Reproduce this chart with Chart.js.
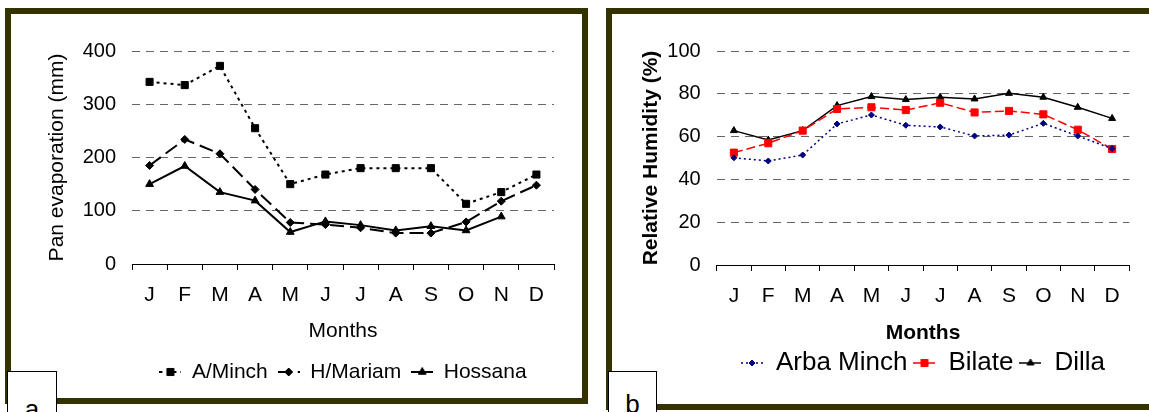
<!DOCTYPE html>
<html>
<head>
<meta charset="utf-8">
<title>Pan evaporation and relative humidity</title>
<script src="https://cdn.jsdelivr.net/npm/chart.js"></script>
<style>
	html, body { margin: 0; padding: 0; background: #fff; }
	body { position: relative; width: 1149px; height: 412px; overflow: hidden; font-family: 'Liberation Sans', Arial, sans-serif; }
	.frame { position: absolute; box-sizing: border-box; border: 6px solid #333300; background: #fff; }
	.frame-a { left: 5px; top: 8px; width: 583px; height: 396px; }
	.frame-b { left: 606px; top: 8px; width: 560px; height: 402px; }
	.chart-box { position: absolute; }
	.chart-a { left: 11px; top: 14px; width: 572px; height: 385px; }
	.chart-b { left: 612px; top: 14px; width: 537px; height: 391px; }
	.tag { position: absolute; box-sizing: border-box; top: 371px; height: 60px; border: 1.5px solid #000; background: #fff; text-align: center; font-size: 26px; line-height: 26px; }
	.tag-a { left: 7px; width: 50px; padding-top: 24px; }
	.tag-b { left: 608px; width: 49px; padding-top: 19px; }
</style>
</head>
<body>
	<div class="frame frame-a"></div>
	<div class="frame frame-b"></div>
	<div class="chart-box chart-a"><canvas id="chartEvaporation"></canvas></div>
	<div class="chart-box chart-b"><canvas id="chartHumidity"></canvas></div>
	<div class="tag tag-a">a</div>
	<div class="tag tag-b">b</div>

<script>
;(function () {
	'use strict';

	const months = [ 'J', 'F', 'M', 'A', 'M', 'J', 'J', 'A', 'S', 'O', 'N', 'D' ];

	// (a) pan evaporation, mm
	const evapTicks = [ 0, 100, 200, 300, 400 ];
	const evapAMinch = [ 342, 336, 372, 255, 150, 168, 180, 180, 180, 113, 135, 168 ];
	const evapHMariam = [ 185, 234, 207, 140, 78, 74, 68, 58, 58, 79, 118, 148 ];
	const evapHossana = [ 150, 184, 135, 119, 60, 80, 73, 63, 71, 63, 89, null ];

	// (b) relative humidity, %
	const humidityTicks = [ 0, 20, 40, 60, 80, 100 ];
	const rhArbaMinch = [ 50.1, 48.6, 51.4, 65.9, 70.1, 65.3, 64.5, 60.3, 60.7, 66.2, 60.3, 54.4 ];
	const rhBilate = [ 52.5, 56.9, 62.8, 72.9, 73.7, 72.4, 75.8, 71.3, 72.0, 70.4, 63.2, 54.2 ];
	const rhDilla = [ 62.8, 58.4, 62.8, 74.5, 78.7, 77.3, 78.4, 77.6, 80.2, 78.4, 73.7, 68.5 ];

	const fontFamily = "'Liberation Sans', Arial, Helvetica, sans-serif";

	const makeLegendIcon = function (ds, width) {
		const icon = document.createElement('canvas');
		icon.width = width;
		icon.height = 16;
		const ctx = icon.getContext('2d');
		ctx.strokeStyle = ds.borderColor;
		ctx.fillStyle = ds.borderColor;
		ctx.lineWidth = ds.borderWidth;
		ctx.setLineDash(ds.borderDash || []);
		ctx.beginPath();
		ctx.moveTo(0, 8);
		ctx.lineTo(width, 8);
		ctx.stroke();
		ctx.setLineDash([]);
		ctx.lineWidth = 1;
		Chart.helpers.drawPoint(ctx, {
			pointStyle: ds.pointStyle,
			radius: ds.pointRadius,
			borderWidth: 1,
			rotation: 0
		}, width / 2, 8);
		return icon;
	};

	const legendLabels = function (iconWidth) {
		return function (chart) {
			const items = Chart.defaults.plugins.legend.labels.generateLabels(chart);
			items.forEach((item, idx) => {
				item.pointStyle = makeLegendIcon(chart.data.datasets[idx], iconWidth);
				item.fontColor = '#000';
			});
			return items;
		};
	};

	const lineSet = function (label, data, color, width, dash, pointStyle, radius) {
		return {
			label: label,
			data: data,
			borderColor: color,
			backgroundColor: color,
			pointBackgroundColor: color,
			pointBorderColor: color,
			borderWidth: width,
			borderDash: dash,
			pointStyle: pointStyle,
			pointRadius: radius,
			pointBorderWidth: 1,
			tension: 0,
			spanGaps: false
		};
	};

	const handleScales = function (opt) {
		return {
			x: {
				type: 'category',
				offset: true,
				grid: {
					offset: true,
					drawOnChartArea: false,
					drawTicks: true,
					tickLength: 6,
					color: '#000',
					lineWidth: 1
				},
				border: { display: true, color: '#000', width: 1 },
				ticks: {
					color: '#000',
					font: { family: fontFamily, size: 21 },
					padding: opt.tickPad,
					maxRotation: 0,
					autoSkip: false
				},
				title: {
					display: true,
					text: 'Months',
					color: '#000',
					font: { family: fontFamily, size: 21, weight: opt.bold ? 'bold' : 'normal' },
					padding: { top: 0, bottom: opt.monthsPad }
				},
				afterFit: function (scale) {
					scale.height = opt.xHeight;
				}
			},
			y: {
				min: opt.ticks[0],
				max: opt.ticks[opt.ticks.length - 1],
				afterBuildTicks: function (scale) {
					scale.ticks = opt.ticks.map(v => ({ value: v }));
				},
				grid: {
					drawTicks: false,
					lineWidth: 1,
					color: function (ctx) {
						return ctx.tick && ctx.tick.value === 0 ? 'rgba(0,0,0,0)' : '#666666';
					}
				},
				border: { display: false, dash: [ 8, 6 ] },
				ticks: {
					color: '#000',
					font: { family: fontFamily, size: 20 },
					padding: 16
				},
				title: {
					display: true,
					text: opt.yTitle,
					color: '#000',
					font: { family: fontFamily, size: 21, weight: opt.bold ? 'bold' : 'normal' },
					padding: { top: opt.yTitlePad, bottom: 0 }
				},
				afterFit: function (scale) {
					scale.width = opt.yWidth;
				}
			}
		};
	};

	const handleEvaporationChart = function () {
		const ctx = document.getElementById('chartEvaporation').getContext('2d');

		new Chart(ctx, {
			type: 'line',
			data: {
				labels: months,
				datasets: [
					lineSet('A/Minch', evapAMinch, '#000000', 2, [ 3, 4 ], 'rect', 5),
					lineSet('H/Mariam', evapHMariam, '#000000', 2, [ 14, 6 ], 'rectRot', 4),
					lineSet('Hossana', evapHossana, '#000000', 2, [], 'triangle', 4.5)
				]
			},
			options: {
				responsive: true,
				maintainAspectRatio: false,
				animation: false,
				layout: { padding: { top: 37, right: 29, bottom: 6.5, left: 0 } },
				plugins: {
					tooltip: { enabled: false },
					legend: {
						position: 'bottom',
						fullSize: false,
						labels: {
							usePointStyle: true,
							pointStyleWidth: 22,
							padding: 10,
							color: '#000',
							font: { family: fontFamily, size: 21 },
							generateLabels: legendLabels(22)
						}
					}
				},
				scales: handleScales({
					ticks: evapTicks,
					yTitle: 'Pan evaporation (mm)',
					bold: false,
					yWidth: 121,
					yTitlePad: 34,
					xHeight: 87.5,
					tickPad: 13,
					monthsPad: 8
				})
			}
		});
	};

	const handleHumidityChart = function () {
		const ctx = document.getElementById('chartHumidity').getContext('2d');

		new Chart(ctx, {
			type: 'line',
			data: {
				labels: months,
				datasets: [
					lineSet('Arba Minch', rhArbaMinch, '#000080', 1.5, [ 2, 3 ], 'rectRot', 3),
					lineSet('Bilate', rhBilate, '#ff0000', 1.5, [ 9, 4 ], 'rect', 5),
					lineSet('Dilla', rhDilla, '#000000', 1.5, [], 'triangle', 4)
				]
			},
			options: {
				responsive: true,
				maintainAspectRatio: false,
				animation: false,
				layout: { padding: { top: 37, right: 19.7, bottom: 19, left: 0 } },
				plugins: {
					tooltip: { enabled: false },
					legend: {
						position: 'bottom',
						fullSize: false,
						labels: {
							usePointStyle: true,
							pointStyleWidth: 22,
							padding: 6,
							color: '#000',
							font: { family: fontFamily, size: 26 },
							generateLabels: legendLabels(22)
						}
					}
				},
				scales: handleScales({
					ticks: humidityTicks,
					yTitle: 'Relative Humidity (%)',
					bold: true,
					yWidth: 104.7,
					yTitlePad: 27,
					xHeight: 79,
					tickPad: 13,
					monthsPad: -1.5
				})
			}
		});
	};

	handleEvaporationChart();
	handleHumidityChart();
})();
</script>
</body>
</html>
